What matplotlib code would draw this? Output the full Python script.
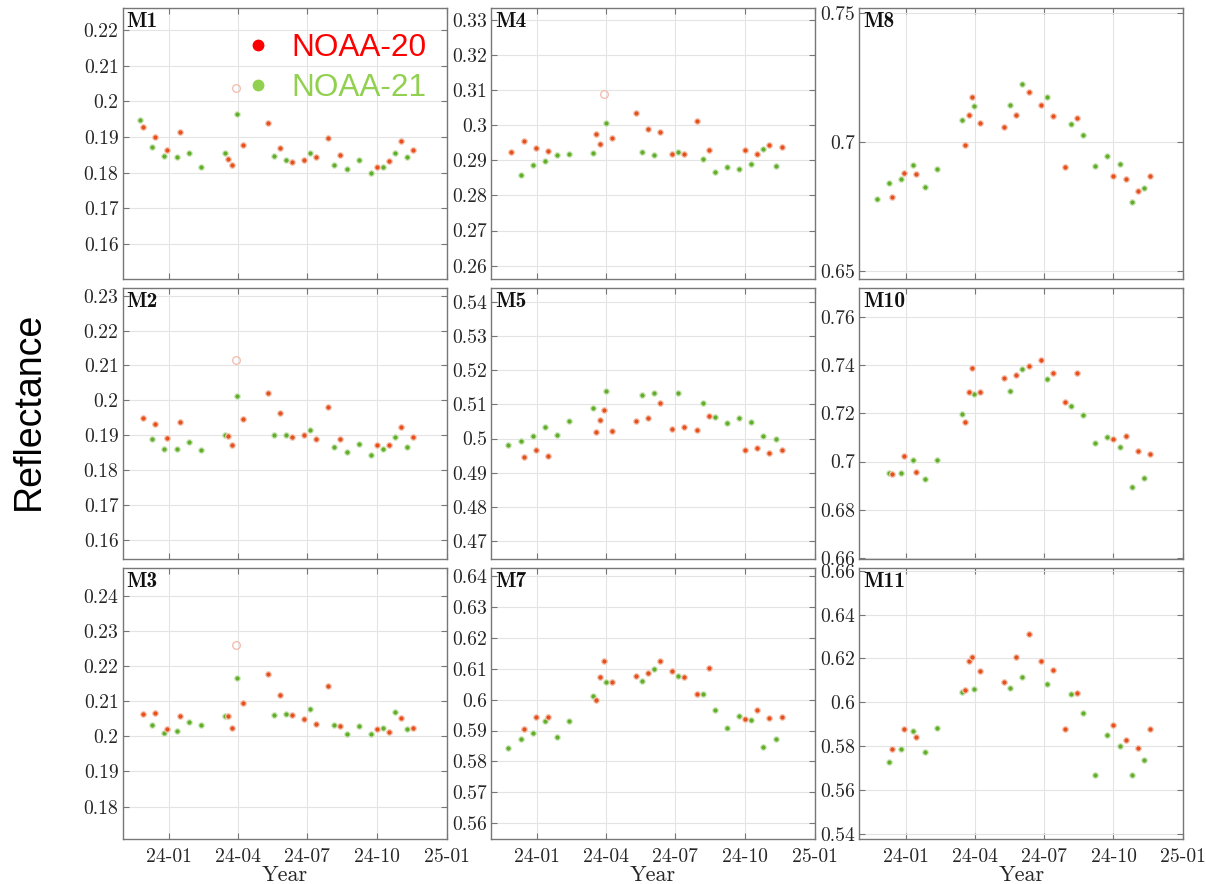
import numpy as np
import pandas as pd
import matplotlib
matplotlib.use("Agg")
import matplotlib.pyplot as plt
import matplotlib.dates as mdates
from matplotlib.ticker import MultipleLocator, FuncFormatter
from matplotlib.lines import Line2D

plt.rcParams["font.family"] = ["cmr10", "DejaVu Serif"]
plt.rcParams["axes.formatter.use_mathtext"] = True

nan = np.nan

# overpass dates of the two satellites
n21_dates = pd.to_datetime([
    "2023-11-24", "2023-12-10", "2023-12-26", "2024-01-11", "2024-01-27", "2024-02-12",
    "2024-03-15", "2024-03-31", "2024-05-18", "2024-06-03", "2024-07-05", "2024-08-06",
    "2024-08-22", "2024-09-07", "2024-09-23", "2024-10-09", "2024-10-25", "2024-11-10",
])
n20_dates = pd.to_datetime([
    "2023-11-28", "2023-12-14", "2023-12-30", "2024-01-15", "2024-03-19", "2024-03-24",
    "2024-03-29", "2024-04-08", "2024-05-10", "2024-05-26", "2024-06-11", "2024-06-27",
    "2024-07-13", "2024-07-29", "2024-08-14", "2024-10-01", "2024-10-17", "2024-11-02",
    "2024-11-18",
])

m1_n20 = [0.1927, 0.1901, 0.1865, 0.1913, 0.1838, 0.1821, 0.2037, 0.1879, 0.1940, 0.1868,
          0.1830, 0.1835, 0.1843, 0.1897, 0.1849, 0.1815, 0.1832, 0.1890, 0.1863]
m1_n21 = [0.1948, 0.1873, 0.1848, 0.1843, 0.1854, 0.1815, 0.1856, 0.1964, 0.1847, 0.1836,
          0.1855, 0.1821, 0.1810, 0.1836, 0.1800, 0.1817, 0.1854, 0.1845]

m2_n20 = [0.1949, 0.1933, 0.1892, 0.1938, 0.1898, 0.1872, 0.2116, 0.1947, 0.2022, 0.1965,
          0.1895, 0.1902, 0.1890, 0.1982, 0.1889, 0.1871, 0.1873, 0.1924, 0.1895]
m2_n21 = [nan, 0.1890, 0.1861, 0.1861, 0.1881, 0.1857, 0.1900, 0.2012, 0.1901, 0.1901,
          0.1915, 0.1867, 0.1851, 0.1874, 0.1843, 0.1860, 0.1896, 0.1867]

m3_n20 = [0.2064, 0.2066, 0.2021, 0.2057, 0.2058, 0.2023, 0.2261, 0.2096, 0.2178, 0.2118,
          0.2061, 0.2048, 0.2034, 0.2143, 0.2028, 0.2022, 0.2012, 0.2053, 0.2025]
m3_n21 = [nan, 0.2033, 0.2009, 0.2014, 0.2042, 0.2032, 0.2058, 0.2167, 0.2061, 0.2063,
          0.2078, 0.2032, 0.2006, 0.2028, 0.2006, 0.2025, 0.2068, 0.2021]

m4_n20 = [0.2924, 0.2956, 0.2936, 0.2927, 0.2974, 0.2946, 0.3088, 0.2963, 0.3036, 0.2989,
          0.2980, 0.2918, 0.2918, 0.3012, 0.2929, 0.2928, 0.2918, 0.2945, 0.2939]
m4_n21 = [nan, 0.2859, 0.2887, 0.2897, 0.2915, 0.2919, 0.2921, 0.3006, 0.2923, 0.2915,
          0.2925, 0.2905, 0.2868, 0.2882, 0.2876, 0.2890, 0.2932, 0.2884]

m5_n20 = [nan, 0.4946, 0.4967, 0.4948, 0.5018, 0.5055, 0.5083, 0.5023, 0.5050, 0.5059,
          0.5103, 0.5028, 0.5035, 0.5025, 0.5067, 0.4966, 0.4973, 0.4957, 0.4967]
m5_n21 = [0.4981, 0.4994, 0.5007, 0.5034, 0.5011, 0.5052, 0.5088, 0.5139, 0.5128, 0.5132,
          0.5133, 0.5105, 0.5064, 0.5045, 0.5060, 0.5048, 0.5008, 0.4999]

m7_n20 = [nan, 0.5904, 0.5944, 0.5945, 0.5998, 0.6072, 0.6124, 0.6057, 0.6078, 0.6085,
          0.6126, 0.6094, 0.6074, 0.6019, 0.6101, 0.5936, 0.5965, 0.5939, 0.5945]
m7_n21 = [0.5845, 0.5872, 0.5891, 0.5932, 0.5879, 0.5931, 0.6013, 0.6057, 0.6061, 0.6099,
          0.6078, 0.6017, 0.5967, 0.5907, 0.5946, 0.5935, 0.5848, 0.5874]

m8_n20 = [nan, 0.6786, 0.6881, 0.6876, 0.6988, 0.7106, 0.7174, 0.7075, 0.7057, 0.7104,
          0.7193, 0.7145, 0.7101, 0.6903, 0.7092, 0.6868, 0.6858, 0.6811, 0.6868]
m8_n21 = [0.6777, 0.6841, 0.6858, 0.6912, 0.6826, 0.6895, 0.7084, 0.7139, 0.7145, 0.7224,
          0.7176, 0.7071, 0.7027, 0.6908, 0.6947, 0.6916, 0.6767, 0.6821]

m10_n20 = [nan, 0.6949, 0.7023, 0.6958, 0.7164, 0.7291, 0.7389, 0.7291, 0.7349, 0.7362,
           0.7396, 0.7422, 0.7368, 0.7248, 0.7368, 0.7094, 0.7107, 0.7042, 0.7032]
m10_n21 = [nan, 0.6954, 0.6951, 0.7005, 0.6926, 0.7007, 0.7198, 0.7282, 0.7293, 0.7386,
           0.7343, 0.7233, 0.7193, 0.7079, 0.7100, 0.7060, 0.6896, 0.6931]

m11_n20 = [nan, 0.5789, 0.5878, 0.5842, 0.6055, 0.6187, 0.6205, 0.6141, 0.6093, 0.6208,
           0.6311, 0.6188, 0.6146, 0.5877, 0.6041, 0.5895, 0.5828, 0.5792, 0.5878]
m11_n21 = [nan, 0.5730, 0.5789, 0.5868, 0.5775, 0.5881, 0.6047, 0.6061, 0.6064, 0.6114,
           0.6084, 0.6038, 0.5953, 0.5670, 0.5851, 0.5799, 0.5670, 0.5737]

# NOAA-20 sample on 2024-03-29 is flagged as an outlier in these bands
flag_idx = 6
flagged_bands = ["M1", "M2", "M3", "M4"]

# layout: column by column, like the original figure
bands = [["M1", "M4", "M8"], ["M2", "M5", "M10"], ["M3", "M7", "M11"]]
series = {
    "M1": (m1_n20, m1_n21), "M2": (m2_n20, m2_n21), "M3": (m3_n20, m3_n21),
    "M4": (m4_n20, m4_n21), "M5": (m5_n20, m5_n21), "M7": (m7_n20, m7_n21),
    "M8": (m8_n20, m8_n21), "M10": (m10_n20, m10_n21), "M11": (m11_n20, m11_n21),
}
ylims = {
    "M1": (0.1501, 0.2261, 0.01), "M2": (0.1545, 0.2321, 0.01), "M3": (0.1707, 0.2478, 0.01),
    "M4": (0.2561, 0.3333, 0.01), "M5": (0.4647, 0.5439, 0.01), "M7": (0.5548, 0.6425, 0.01),
    "M8": (0.6467, 0.7519, 0.05), "M10": (0.6593, 0.7721, 0.02), "M11": (0.5376, 0.6611, 0.02),
}

c20 = "#e5501c"
c21 = "#62ad2a"
c20_edge = "#f6c8b6"
c21_edge = "#d3e9c3"

W, H = 1206, 884
fig = plt.figure(figsize=(W / 100, H / 100), dpi=100)

col_x = [122.7, 491.0, 859.3]
row_y = [(8.3, 279.3), (288.3, 559.3), (568.3, 839.3)]
ax_w = 324.0

for r in range(3):
    for c in range(3):
        band = bands[r][c]
        top, bot = row_y[r]
        ax = fig.add_axes([col_x[c] / W, 1 - bot / H, ax_w / W, (bot - top) / H])
        v20, v21 = series[band]
        v20 = np.array(v20, dtype=float)
        v21 = np.array(v21, dtype=float)

        ax.plot(n21_dates, v21, "o", ls="none", ms=4, color=c21, mec=c21_edge, mew=0.9, zorder=3)
        if band in flagged_bands:
            good = np.ones(len(v20), bool)
            good[flag_idx] = False
            ax.plot(n20_dates[good], v20[good], "o", ls="none", ms=4, color=c20,
                    mec=c20_edge, mew=0.9, zorder=3)
            ax.plot(n20_dates[flag_idx], v20[flag_idx], "o", ls="none", ms=5.5,
                    mfc="none", mec="#f5b9a8", mew=0.9, zorder=3)
        else:
            ax.plot(n20_dates, v20, "o", ls="none", ms=4, color=c20, mec=c20_edge,
                    mew=0.9, zorder=3)

        lo, hi, step = ylims[band]
        ax.set_ylim(lo, hi)
        ax.yaxis.set_major_locator(MultipleLocator(step))
        ax.yaxis.set_major_formatter(FuncFormatter(lambda v, _: f"{v:g}"))

        ax.set_xlim(pd.Timestamp("2023-11-01"), pd.Timestamp("2025-01-01"))
        ax.xaxis.set_major_locator(mdates.MonthLocator(bymonth=[1, 4, 7, 10]))
        ax.xaxis.set_major_formatter(mdates.DateFormatter("%y-%m"))

        ax.grid(True, color="#e4e4e4", lw=0.8)
        ax.set_axisbelow(True)
        for s in ax.spines.values():
            s.set_color("#777777")
            s.set_linewidth(1.0)
        ax.tick_params(direction="in", length=4, width=0.8, color="#777777",
                       top=True, right=True, labelsize=14.2, labelcolor="#262626", pad=3)
        ax.tick_params(axis="x", pad=6)
        if r < 2:
            ax.tick_params(labelbottom=False)
        else:
            ax.set_xlabel("Year", fontsize=16, color="#262626", labelpad=0)

        ax.text(0.012, 0.988, band, transform=ax.transAxes, ha="left", va="top",
                fontsize=15.5, family="cmb10", color="#111111")

        if band == "M1":
            handles = [
                Line2D([], [], ls="none", marker="o", ms=7.5, color="#ff0000"),
                Line2D([], [], ls="none", marker="o", ms=7.5, color="#92d050"),
            ]
            ax.legend(handles, ["NOAA-20", "NOAA-21"], loc="upper right",
                      bbox_to_anchor=(0.986, 0.966), frameon=False,
                      prop={"family": "Liberation Sans", "size": 22.7},
                      labelcolor=["#ff0000", "#92d050"], handletextpad=0.55,
                      handlelength=1.0, labelspacing=0.3, borderpad=0)

fig.text(29 / W, 1 - 411 / H, "Reflectance", rotation=90, ha="center", va="center",
         fontsize=27, family="Liberation Sans", color="black")

fig.savefig("out.png", dpi=100)
plt.close(fig)
